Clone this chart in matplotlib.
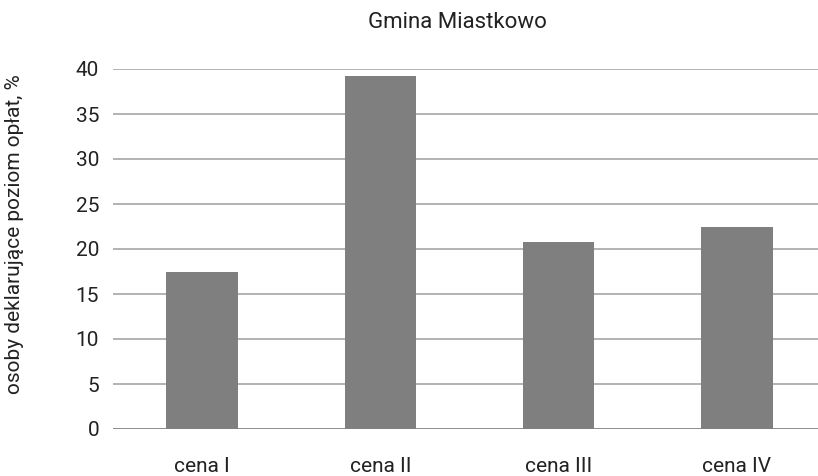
import matplotlib
matplotlib.use("Agg")
import matplotlib.pyplot as plt

plt.rcParams['font.family'] = ['Roboto', 'DejaVu Sans']
plt.rcParams['font.weight'] = 'normal'

categories = ["cena I", "cena II", "cena III", "cena IV"]
values = [17.4, 39.2, 20.8, 22.4]
yticks = [0, 5, 10, 15, 20, 25, 30, 35, 40]

fig = plt.figure(figsize=(8.18, 4.76), dpi=100)
ax = fig.add_axes([113 / 818, 47 / 476, 713 / 818, 360 / 476])

ax.bar(range(len(categories)), values, width=0.40, color="#7f7f7f", zorder=3)

ax.set_ylim(0, 40)
ax.set_xlim(-0.5, len(categories) - 0.5)
ax.set_yticks(yticks)
ax.set_xticks(range(len(categories)))
ax.set_xticklabels(categories)
ax.grid(axis="y", color="#a6a6a6", lw=1.2, zorder=0)
ax.axhline(0, color="#888888", lw=1.2, zorder=2)
for s in ax.spines.values():
    s.set_visible(False)
ax.tick_params(axis="both", length=0, labelsize=15, colors="#222222")
ax.tick_params(axis="y", pad=10)
ax.tick_params(axis="x", pad=20)

ax.set_ylabel("osoby deklarujące poziom opłat, %", fontsize=15, color="#222222")
ax.yaxis.set_label_coords(-0.125, 0.54)
fig.text(457 / 818, 1 - 22 / 476, "Gmina Miastkowo", ha="center", va="center",
         fontsize=16, color="#222222")

fig.savefig("out.png", dpi=100)
